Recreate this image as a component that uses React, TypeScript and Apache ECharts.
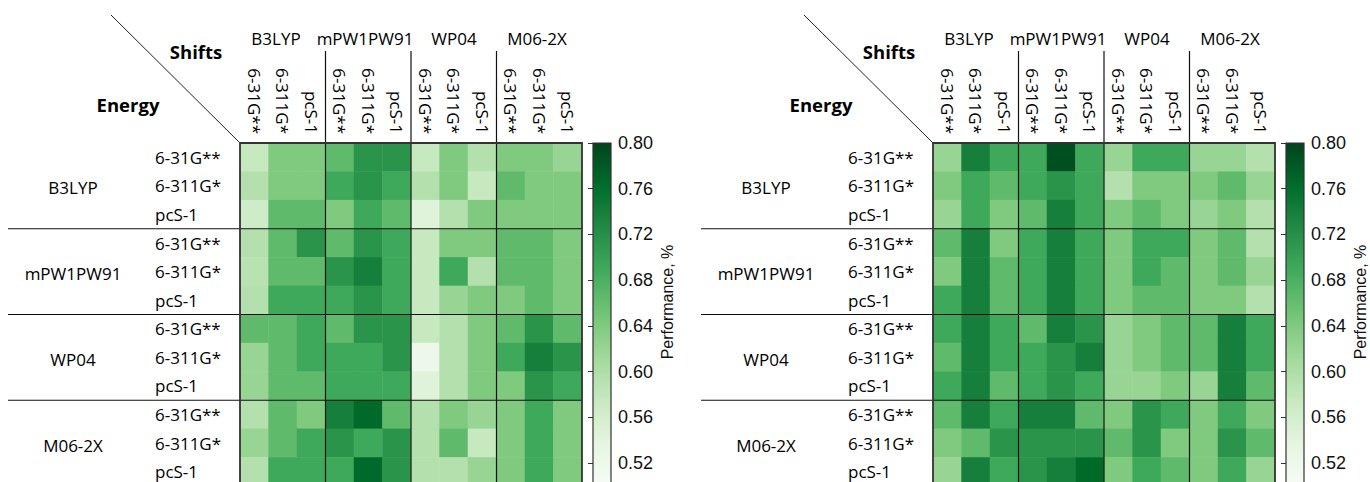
import React, { useEffect, useRef } from "react";
import * as echarts from "echarts";

// Functional / basis-set combinations
const methods = ["B3LYP", "mPW1PW91", "WP04", "M06-2X"];
const basisSets = ["6-31G**", "6-311G*", "pcS-1"];

// Colour scale
const valueMin = 0.5;
const valueMax = 0.8;
const colorbarTicks = [0.52, 0.56, 0.6, 0.64, 0.68, 0.72, 0.76, 0.8];
const greens = ["#f7fcf5", "#e5f5e0", "#c7e9c0", "#a1d99b", "#74c476", "#41ab5d", "#238b45", "#006d2c", "#00441b"];

// Rows: energy level of theory, columns: shift level of theory
const performanceLeft: number[][] = [
  [0.575, 0.64, 0.64, 0.665, 0.715, 0.715, 0.575, 0.64, 0.595, 0.64, 0.64, 0.62],
  [0.595, 0.64, 0.64, 0.69, 0.715, 0.69, 0.595, 0.64, 0.575, 0.665, 0.64, 0.64],
  [0.565, 0.665, 0.665, 0.64, 0.69, 0.665, 0.545, 0.595, 0.64, 0.64, 0.64, 0.64],
  [0.595, 0.665, 0.715, 0.665, 0.715, 0.69, 0.575, 0.64, 0.64, 0.665, 0.665, 0.64],
  [0.59, 0.665, 0.665, 0.715, 0.74, 0.69, 0.575, 0.69, 0.595, 0.665, 0.665, 0.64],
  [0.595, 0.69, 0.69, 0.69, 0.715, 0.69, 0.575, 0.62, 0.64, 0.64, 0.665, 0.64],
  [0.665, 0.665, 0.69, 0.665, 0.715, 0.715, 0.575, 0.595, 0.64, 0.665, 0.715, 0.665],
  [0.62, 0.665, 0.69, 0.69, 0.69, 0.715, 0.52, 0.595, 0.64, 0.69, 0.74, 0.715],
  [0.62, 0.665, 0.665, 0.69, 0.69, 0.69, 0.545, 0.595, 0.64, 0.64, 0.715, 0.69],
  [0.595, 0.665, 0.64, 0.74, 0.765, 0.665, 0.595, 0.64, 0.62, 0.64, 0.69, 0.64],
  [0.62, 0.665, 0.69, 0.715, 0.69, 0.715, 0.595, 0.665, 0.575, 0.64, 0.69, 0.64],
  [0.595, 0.69, 0.69, 0.69, 0.765, 0.715, 0.595, 0.595, 0.62, 0.64, 0.69, 0.64],
];

const performanceRight: number[][] = [
  [0.62, 0.74, 0.69, 0.69, 0.79, 0.69, 0.62, 0.69, 0.69, 0.62, 0.62, 0.595],
  [0.64, 0.69, 0.665, 0.69, 0.715, 0.69, 0.595, 0.64, 0.64, 0.64, 0.665, 0.62],
  [0.62, 0.69, 0.64, 0.665, 0.74, 0.69, 0.64, 0.665, 0.64, 0.62, 0.64, 0.595],
  [0.665, 0.74, 0.64, 0.69, 0.74, 0.69, 0.64, 0.69, 0.69, 0.64, 0.665, 0.595],
  [0.64, 0.74, 0.665, 0.69, 0.74, 0.69, 0.64, 0.69, 0.665, 0.64, 0.665, 0.62],
  [0.69, 0.74, 0.665, 0.69, 0.74, 0.69, 0.64, 0.665, 0.665, 0.64, 0.64, 0.595],
  [0.69, 0.74, 0.69, 0.665, 0.74, 0.715, 0.62, 0.64, 0.665, 0.665, 0.74, 0.69],
  [0.665, 0.74, 0.69, 0.69, 0.715, 0.74, 0.62, 0.64, 0.665, 0.665, 0.74, 0.69],
  [0.69, 0.74, 0.665, 0.69, 0.715, 0.69, 0.62, 0.62, 0.64, 0.62, 0.74, 0.665],
  [0.665, 0.74, 0.69, 0.74, 0.74, 0.665, 0.64, 0.715, 0.69, 0.64, 0.69, 0.64],
  [0.64, 0.665, 0.715, 0.715, 0.715, 0.715, 0.665, 0.715, 0.64, 0.64, 0.715, 0.665],
  [0.62, 0.74, 0.69, 0.715, 0.74, 0.765, 0.64, 0.69, 0.665, 0.64, 0.69, 0.62],
];

const panels = [performanceLeft, performanceRight];

// Layout (pixels)
const PANEL_SHIFT = 693;
const GRID_LEFT = 240;
const GRID_TOP = 143;
const GRID_W = 342;
const GRID_H = 343;
const CBAR_LEFT = 593;
const CBAR_W = 18;
const LABEL_FONT = "Open Sans";
const TICK_FONT = "Liberation Sans";
const LABEL_SIZE = 17;
const headerX = [276, 365, 454, 537];

const keys = methods.flatMap((m) => basisSets.map((b) => `${m}|${b}`));
const basisOf = (k: string) => k.split("|")[1];

function buildOption() {
  const grid: any[] = [];
  const xAxis: any[] = [];
  const yAxis: any[] = [];
  const series: any[] = [];
  const graphic: any[] = [];

  panels.forEach((values, p) => {
    const dx = p * PANEL_SHIFT;
    const gl = GRID_LEFT + dx;
    const colW = GRID_W / keys.length;
    const rowH = GRID_H / keys.length;
    const heatIdx = 2 * p;
    const cbarIdx = 2 * p + 1;

    // heatmap grid
    grid.push({ left: gl, top: GRID_TOP, width: GRID_W, height: GRID_H, outerBoundsMode: "none", containLabel: false });
    xAxis.push({
      gridIndex: heatIdx,
      type: "category",
      position: "top",
      data: keys,
      axisLine: { show: false },
      axisTick: { show: false },
      splitLine: { show: false },
      axisLabel: {
        rotate: 90,
        margin: 9,
        interval: 0,
        formatter: basisOf,
        fontFamily: LABEL_FONT,
        fontSize: LABEL_SIZE,
        color: "#000",
      },
    });
    yAxis.push({
      gridIndex: heatIdx,
      type: "category",
      inverse: true,
      data: keys,
      axisLine: { show: false },
      axisTick: { show: false },
      splitLine: { show: false },
      axisLabel: {
        align: "left",
        margin: 85,
        interval: 0,
        formatter: basisOf,
        fontFamily: LABEL_FONT,
        fontSize: LABEL_SIZE,
        color: "#000",
      },
    });
    series.push({
      type: "heatmap",
      xAxisIndex: heatIdx,
      yAxisIndex: heatIdx,
      data: values.flatMap((row, r) => row.map((v, c) => [c, r, v])),
      itemStyle: { borderWidth: 0 },
      emphasis: { disabled: true },
    });

    // colour bar axis
    const cl = CBAR_LEFT + dx;
    grid.push({ left: cl, top: GRID_TOP, width: CBAR_W, height: GRID_H, outerBoundsMode: "none", containLabel: false });
    xAxis.push({ gridIndex: cbarIdx, type: "value", show: false, min: 0, max: 1 });
    yAxis.push({
      gridIndex: cbarIdx,
      type: "value",
      position: "right",
      min: valueMin,
      max: valueMax,
      axisLine: { show: false },
      splitLine: { show: false },
      axisTick: {
        show: true,
        inside: true,
        length: 5,
        customValues: colorbarTicks,
        lineStyle: { color: "#333", width: 1 },
      },
      axisLabel: {
        customValues: colorbarTicks,
        margin: 7,
        formatter: (v: number) => v.toFixed(2),
        fontFamily: TICK_FONT,
        fontSize: 18,
        color: "#111",
      },
    });

    // corner header
    graphic.push({
      type: "line",
      z: 100,
      shape: { x1: 111 + dx, y1: 15, x2: gl, y2: GRID_TOP },
      style: { stroke: "#222", lineWidth: 1 },
    });
    graphic.push({
      type: "text",
      z: 100,
      x: 196 + dx,
      y: 51,
      style: { text: "Shifts", font: `bold 18.5px ${LABEL_FONT}`, fill: "#000", textAlign: "center", textVerticalAlign: "middle" },
    });
    graphic.push({
      type: "text",
      z: 100,
      x: 128 + dx,
      y: 104,
      style: { text: "Energy", font: `bold 18.5px ${LABEL_FONT}`, fill: "#000", textAlign: "center", textVerticalAlign: "middle" },
    });

    methods.forEach((m, g) => {
      // column group titles
      graphic.push({
        type: "text",
        z: 100,
        x: headerX[g] + dx,
        y: 38,
        style: { text: m, font: `${LABEL_SIZE}px ${LABEL_FONT}`, fill: "#000", textAlign: "center", textVerticalAlign: "middle" },
      });
      // row group titles
      graphic.push({
        type: "text",
        z: 100,
        x: 73 + dx,
        y: GRID_TOP + rowH * (3 * g + 1.5) + 2,
        style: { text: m, font: `${LABEL_SIZE}px ${LABEL_FONT}`, fill: "#000", textAlign: "center", textVerticalAlign: "middle" },
      });
      if (g > 0) {
        const x = gl + colW * 3 * g;
        const y = GRID_TOP + rowH * 3 * g;
        graphic.push({
          type: "line",
          z: 100,
          shape: { x1: x, y1: 51, x2: x, y2: GRID_TOP + GRID_H },
          style: { stroke: "#111", lineWidth: 1.2 },
        });
        graphic.push({
          type: "line",
          z: 100,
          shape: { x1: 8 + dx, y1: y, x2: gl + GRID_W, y2: y },
          style: { stroke: "#111", lineWidth: 1.2 },
        });
      }
    });

    // grid frame
    graphic.push({
      type: "rect",
      z: 100,
      shape: { x: gl, y: GRID_TOP, width: GRID_W, height: GRID_H },
      style: { fill: "none", stroke: "#333", lineWidth: 1.8 },
    });

    // colour bar gradient
    const stops = greens
      .slice()
      .reverse()
      .map((c, i) => ({ offset: i / (greens.length - 1), color: c }));
    graphic.push({
      type: "rect",
      z: 90,
      shape: { x: cl, y: GRID_TOP, width: CBAR_W, height: GRID_H },
      style: {
        fill: new echarts.graphic.LinearGradient(0, 0, 0, 1, stops),
        stroke: "#333",
        lineWidth: 1.2,
      },
    });
    graphic.push({
      type: "text",
      z: 100,
      x: cl + 74,
      y: 302,
      rotation: Math.PI / 2,
      style: {
        text: "Performance, %",
        font: `16px ${TICK_FONT}`,
        fill: "#111",
        textAlign: "center",
        textVerticalAlign: "middle",
      },
    });
  });

  return {
    animation: false,
    backgroundColor: "#fff",
    grid,
    xAxis,
    yAxis,
    visualMap: [
      {
        type: "continuous",
        show: false,
        min: valueMin,
        max: valueMax,
        seriesIndex: [0, 1],
        inRange: { color: greens },
      },
    ],
    series,
    graphic,
  };
}

export default function App() {
  const ref = useRef<HTMLDivElement>(null);
  useEffect(() => {
    document.body.style.margin = "0";
    const chart = echarts.init(ref.current!, null, { renderer: "svg" });
    chart.setOption(buildOption() as any);
    return () => chart.dispose();
  }, []);
  return <div ref={ref} style={{ width: 1370, height: 482 }} />;
}
